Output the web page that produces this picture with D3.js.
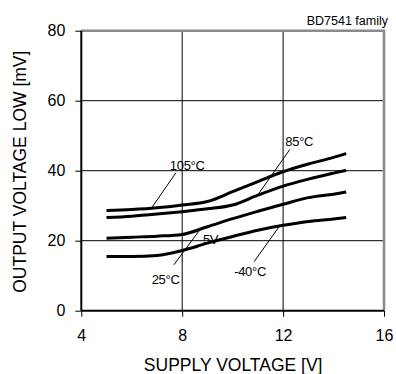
<!DOCTYPE html>
<html><head><meta charset="utf-8">
<script src="https://cdn.jsdelivr.net/npm/d3@7"></script>
<style>body{margin:0;background:#fff}svg{display:block}text{font-family:"Liberation Sans",Arial,sans-serif;fill:#000}</style>
</head><body><svg id="c" width="396" height="374"></svg>
<script>
const xTicks = [4, 8, 12, 16];
const yTicks = [0, 20, 40, 60, 80];
const supplyV = [5, 6, 7, 8, 9, 10, 11, 12, 13, 14, 14.5];
const vol105 = [28.6, 28.9, 29.4, 30.2, 31.2, 34.0, 36.9, 39.7, 41.9, 43.8, 44.9];
const vol85  = [26.6, 27.0, 27.6, 28.3, 29.1, 30.2, 33.0, 35.6, 37.6, 39.3, 40.1];
const vol25  = [20.7, 21.0, 21.3, 21.8, 24.0, 26.3, 28.4, 30.4, 32.3, 33.3, 33.9];
const volM40 = [15.5, 15.5, 15.8, 17.2, 19.3, 21.2, 23.0, 24.4, 25.5, 26.2, 26.6];
const seriesNames = ["105", "85", "25", "-40"];
// labels: [x, y] in data units; leaders [x1,y1,x2,y2] in data units
const labelTexts = ["105°C", "85°C", "5V", "25°C", "-40°C"];
const labelPos = [[7.51, 40.3], [12.09, 47.1], [8.82, 19.1], [6.79, 7.6], [10.06, 10.0]];
const leaders = [[7.75, 39.4, 6.79, 29.4], [12.27, 46.1, 10.97, 32.8], [7.67, 13.1, 8.70, 23.1], [10.85, 14.0, 11.84, 24.0]];

const svg = d3.select("#c");
const L = 81.3, R = 384, T = 30.7, B = 310.7;
const x = d3.scaleLinear().domain([4, 16]).range([L, R]);
const y = d3.scaleLinear().domain([0, 80]).range([B, T]);

// grid
svg.append("g").selectAll("line").data(xTicks.filter(d => d > 4 && d < 16)).join("line")
  .attr("x1", d => x(d)).attr("x2", d => x(d)).attr("y1", T).attr("y2", B)
  .attr("stroke", "#000").attr("stroke-width", 1);
svg.append("g").selectAll("line").data(yTicks.filter(d => d > 0 && d < 80)).join("line")
  .attr("y1", d => y(d)).attr("y2", d => y(d)).attr("x1", L).attr("x2", R)
  .attr("stroke", "#000").attr("stroke-width", 1);
// frame top/right grey
svg.append("path").attr("d", `M${L},${T}H${R}V${B}`).attr("fill", "none")
  .attr("stroke", "#8a8a8a").attr("stroke-width", 2.5);

// axes
const ax = svg.append("g").attr("transform", `translate(0,${B})`)
  .call(d3.axisBottom(x).tickValues(xTicks).tickSize(6).tickPadding(13));
const ay = svg.append("g").attr("transform", `translate(${L},0)`)
  .call(d3.axisLeft(y).tickValues(yTicks).tickSize(6).tickPadding(10));
[ax, ay].forEach(g => {
  g.select(".domain").attr("stroke", "#000").attr("stroke-width", 2);
  g.selectAll(".tick line").attr("stroke", "#000").attr("stroke-width", 1);
  g.selectAll(".tick text").attr("font-size", 16).attr("font-family", "Liberation Sans, Arial, sans-serif").attr("fill", "#000");
});
ax.select(".domain").attr("d", `M${L},0H${R}`);
ay.select(".domain").attr("d", `M0,${B}V${T}`);

// curves
const line = d3.line().x(d => x(d[0])).y(d => y(d[1])).curve(d3.curveMonotoneX);
[vol105, vol85, vol25, volM40].forEach((vals, i) => {
  svg.append("path").datum(supplyV.map((v, j) => [v, vals[j]]))
    .attr("class", "s" + seriesNames[i])
    .attr("d", line).attr("fill", "none").attr("stroke", "#000").attr("stroke-width", 3)
    .attr("stroke-linejoin", "round");
});

// leaders
svg.append("g").selectAll("line").data(leaders).join("line")
  .attr("x1", d => x(d[0])).attr("y1", d => y(d[1])).attr("x2", d => x(d[2])).attr("y2", d => y(d[3]))
  .attr("stroke", "#000").attr("stroke-width", 1);

// labels
svg.append("g").selectAll("text").data(labelTexts).join("text")
  .attr("x", (d, i) => x(labelPos[i][0])).attr("y", (d, i) => y(labelPos[i][1]))
  .attr("font-size", 13).attr("letter-spacing", -0.3).text(d => d);

// titles
svg.append("text").attr("x", 388).attr("y", 25).attr("text-anchor", "end").attr("font-size", 12.5).text("BD7541 family");
svg.append("text").attr("x", (L + R) / 2 + 0.5).attr("y", 371).attr("text-anchor", "middle").attr("font-size", 17.5).text("SUPPLY VOLTAGE [V]");
svg.append("text").attr("transform", `translate(26,${(T + B) / 2 + 1}) rotate(-90)`).attr("text-anchor", "middle").attr("font-size", 17.5).text("OUTPUT VOLTAGE LOW [mV]");
</script></body></html>
